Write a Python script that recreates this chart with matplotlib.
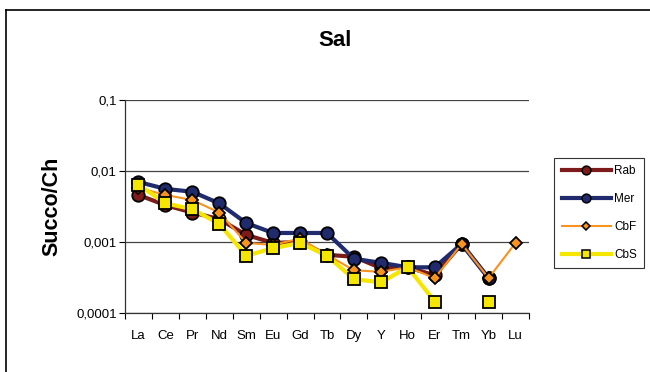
import numpy as np
import matplotlib
matplotlib.use("Agg")
from matplotlib import pyplot as plt
from matplotlib.lines import Line2D

plt.rcParams['font.family'] = ['Liberation Sans', 'DejaVu Sans']

nan = np.nan

elements = ['La', 'Ce', 'Pr', 'Nd', 'Sm', 'Eu', 'Gd', 'Tb', 'Dy', 'Y', 'Ho', 'Er', 'Tm', 'Yb', 'Lu']

rab = [0.0046, 0.0033, 0.0026, 0.0021, 0.00126, 0.00097, 0.0010, 0.00066, 0.00062, 0.00043, 0.00044, 0.00034, 0.00094, 0.00031, nan]
mer = [0.0070, 0.0056, 0.0051, 0.0035, 0.00185, 0.00134, 0.00134, 0.00134, 0.00058, 0.00051, 0.00044, 0.00044, 0.00094, 0.00031, nan]
cbf = [0.0058, 0.0046, 0.0039, 0.0026, 0.00097, 0.00091, 0.00112, 0.00066, 0.00040, 0.00038, 0.00044, 0.00031, 0.00094, 0.00031, 0.00097]
cbs = [0.0064, 0.0035, 0.0029, 0.0018, 0.00064, 0.00082, 0.00097, 0.00064, 0.00030, 0.00027, 0.00044, 0.000145, nan, 0.000145, nan]

# name, values, colour, line width, marker, marker size
series = [
    ('Rab', rab, '#7d1a1a', 3.0, 'o', 9.0),
    ('Mer', mer, '#1f2b6c', 3.0, 'o', 9.0),
    ('CbF', cbf, '#f7931e', 1.5, 'D', 6.5),
    ('CbS', cbs, '#f5e600', 3.0, 's', 8.7),
]

fig = plt.figure(figsize=(6.5, 3.72), dpi=100)
ax = fig.add_axes([0.1923, 0.1586, 0.6215, 0.5726])

x = np.arange(len(elements))
for name, vals, col, lw, mk, ms in series:
    ax.plot(x, vals, color=col, lw=lw, marker=mk, ms=ms, mfc=col,
            mec='black', mew=1.3, label=name, solid_joinstyle='round')

ax.set_yscale('log')
ax.set_ylim(0.0001, 0.1)
ax.set_xlim(-0.5, len(elements) - 0.5)
ax.set_yticks([0.0001, 0.001, 0.01, 0.1])
ax.set_yticklabels(['0,0001', '0,001', '0,01', '0,1'])
ax.yaxis.set_minor_locator(matplotlib.ticker.NullLocator())
ax.set_xticks(x)
ax.set_xticklabels(elements)
ax.set_xticks(np.arange(-0.5, len(elements)), minor=True)
ax.tick_params(axis='x', which='major', length=0, pad=12, labelsize=9.5)
ax.tick_params(axis='x', which='minor', length=4, direction='out', width=0.8)
ax.tick_params(axis='y', length=4, width=0.8, labelsize=9.5, pad=2)
ax.grid(axis='y', which='major', color='#444444', lw=0.9)
ax.set_axisbelow(True)
for s in ['top', 'right']:
    ax.spines[s].set_visible(False)
for s in ['left', 'bottom']:
    ax.spines[s].set_color('#333333')
    ax.spines[s].set_linewidth(0.9)

ax.set_ylabel('Succo/Ch', fontsize=15.5, fontweight='bold', labelpad=10)
fig.text(0.515, 0.89, 'Sal', ha='center', va='center', fontsize=16, fontweight='bold')

handles = [Line2D([], [], color=col, lw=lw, marker=mk, ms=ms * 0.7, mfc=col,
                  mec='black', mew=1.1) for _, _, col, lw, mk, ms in series]
leg = fig.legend(handles, [s[0] for s in series], loc='upper left',
                 bbox_to_anchor=(0.853, 0.575), frameon=True, fontsize=8.5,
                 handlelength=4.2, handletextpad=0.25, labelspacing=1.35,
                 borderpad=0.6, borderaxespad=0, fancybox=False)
leg.get_frame().set_edgecolor('black')
leg.get_frame().set_linewidth(0.8)

# outer chart border (left and top edges)
fig.add_artist(Line2D([0.0092, 0.0092], [0, 0.973], transform=fig.transFigure, color='black', lw=1.2))
fig.add_artist(Line2D([0.0092, 1.0], [0.973, 0.973], transform=fig.transFigure, color='black', lw=1.2))

fig.savefig('out.png', dpi=100)
